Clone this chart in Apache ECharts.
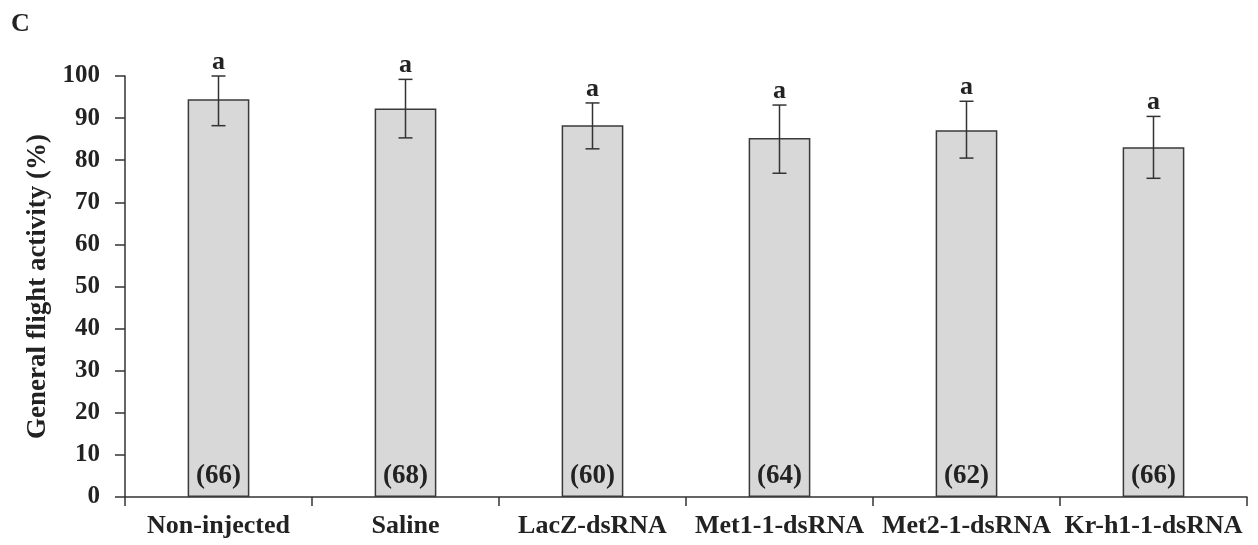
<!DOCTYPE html>
<html><head><meta charset="utf-8">
<script src="https://cdn.jsdelivr.net/npm/echarts@6/dist/echarts.min.js"></script>
<style>html,body{margin:0;padding:0;background:#fff}#c{width:1258px;height:545px}</style>
</head><body><div id="c"></div>
<script>
var categories = ['Non-injected','Saline','LacZ-dsRNA','Met1-1-dsRNA','Met2-1-dsRNA','Kr-h1-1-dsRNA'];
var means = [94.5, 92.3, 88.3, 85.3, 87.1, 83.1];
var errHigh = [100, 99.2, 93.6, 93.1, 94.0, 90.4];
var errLow = [88.2, 85.3, 82.7, 76.9, 80.5, 75.7];
var sampleSizes = ['(66)','(68)','(60)','(64)','(62)','(66)'];
var letters = ['a','a','a','a','a','a'];
var yTicks = [0,10,20,30,40,50,60,70,80,90,100];

var FONT = '"Liberation Serif","Times New Roman",serif';
var chart = echarts.init(document.getElementById('c'));
var errData = categories.map(function(c,i){return [i, errLow[i], errHigh[i]];});
chart.setOption({
  animation:false,
  grid:{left:125,right:11,top:76,bottom:48},
  graphic:[{type:'text',left:11,top:11,style:{text:'C',font:'bold 26px '+FONT,fill:'#222'}}],
  xAxis:{type:'category',data:categories,
    axisLine:{lineStyle:{color:'#333',width:1.5}},
    axisTick:{show:true,alignWithLabel:false,length:9,lineStyle:{color:'#333',width:1.5}},
    axisLabel:{margin:16,color:'#222',fontFamily:FONT,fontWeight:'bold',fontSize:26,interval:0}},
  yAxis:{type:'value',min:0,max:100,interval:10,
    name:'General flight activity (%)',nameLocation:'middle',nameGap:66,
    nameTextStyle:{fontFamily:FONT,fontWeight:'bold',fontSize:27,color:'#222'},
    axisLine:{show:true,lineStyle:{color:'#333',width:1.5}},
    axisTick:{show:true,length:10,lineStyle:{color:'#333',width:1.5}},
    splitLine:{show:false},
    axisLabel:{margin:25,color:'#222',fontFamily:FONT,fontWeight:'bold',fontSize:25,
      formatter:function(v){return yTicks.indexOf(v)>=0?String(v):'';}}},
  series:[{
    type:'bar',data:means,barWidth:'33%',
    itemStyle:{color:'#d8d8d8',borderColor:'#3a3a3a',borderWidth:1.5},
    label:{show:true,position:'insideBottom',distance:7,color:'#222',fontFamily:FONT,fontWeight:'bold',fontSize:27,
      formatter:function(p){return sampleSizes[p.dataIndex];}}
  },{
    type:'custom',data:errData,z:10,
    renderItem:function(params,api){
      var x=api.value(0);
      var lo=api.coord([x,api.value(1)]);
      var hi=api.coord([x,api.value(2)]);
      var cap=7;
      var st={stroke:'#333',lineWidth:1.5};
      return {type:'group',children:[
        {type:'line',shape:{x1:lo[0],y1:lo[1],x2:hi[0],y2:hi[1]},style:st},
        {type:'line',shape:{x1:lo[0]-cap,y1:lo[1],x2:lo[0]+cap,y2:lo[1]},style:st},
        {type:'line',shape:{x1:hi[0]-cap,y1:hi[1],x2:hi[0]+cap,y2:hi[1]},style:st},
        {type:'text',style:{text:letters[params.dataIndex],x:hi[0],y:hi[1]-1,align:'center',verticalAlign:'bottom',
          font:'bold 26px '+FONT,fill:'#222'}}
      ]};
    }
  }]
});
</script></body></html>
